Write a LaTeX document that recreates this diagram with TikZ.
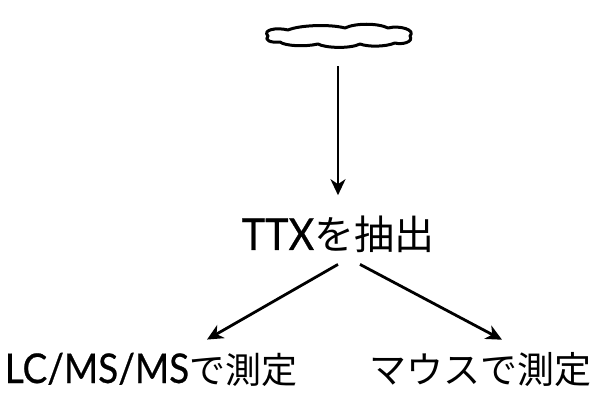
\documentclass[tikz,border=0pt]{standalone}
\usepackage{fontspec}
\setmainfont{Lato}[FakeStretch=0.9, FakeBold=0.6]
\newfontfamily\jpfont{Noto Sans CJK JP}
\usetikzlibrary{arrows.meta}
\tikzset{
  lbl/.style={inner sep=0pt, anchor=base, font=\fontsize{41}{44}\selectfont},
  arr/.style={line width=2.8pt, -{Stealth[length=16pt,width=15pt,inset=5pt]}},
}
\begin{document}
\begin{tikzpicture}[x=1pt, y=-1pt]
\useasboundingbox (0,0) rectangle (598,393);
% cloud
\node[inner sep=0pt, minimum width=146pt, minimum height=24pt] (src) at (338,35){};
\draw[line width=3pt, line join=round]
  (268,36) .. controls (262,30) and (276,27) .. (288,30)
  .. controls (300,25) and (330,24) .. (345,28)
  .. controls (355,23) and (378,23) .. (388,28)
  .. controls (400,25) and (416,30) .. (410,36)
  .. controls (414,42) and (402,45) .. (395,43)
  .. controls (385,47) and (368,47) .. (360,44)
  .. controls (350,49) and (325,48) .. (318,44)
  .. controls (305,47) and (285,46) .. (280,42)
  .. controls (270,43) and (264,40) .. (268,36) -- cycle;
\node[lbl, font=\fontsize{44}{48}\selectfont] (ttx) at (338,250){TTX{\jpfont\fontsize{40}{44}\selectfont を抽出}};
\node[lbl] (lcms) at (151,383){LC/MS/MS{\jpfont\fontsize{36}{40}\selectfont で測定}};
\node[lbl] (mouse) at (480,384){\jpfont\fontsize{37}{40}\selectfont マウスで測定};
\draw[arr] ([yshift=-19pt]src.south) -- ([yshift=21pt]ttx.north);
\draw[arr] ([xshift=0pt,yshift=-11pt]ttx.south) -- ([xshift=56pt,yshift=13pt]lcms.north);
\draw[arr] ([xshift=22pt,yshift=-11pt]ttx.south) -- ([xshift=22pt,yshift=13pt]mouse.north);
\end{tikzpicture}
\end{document}
